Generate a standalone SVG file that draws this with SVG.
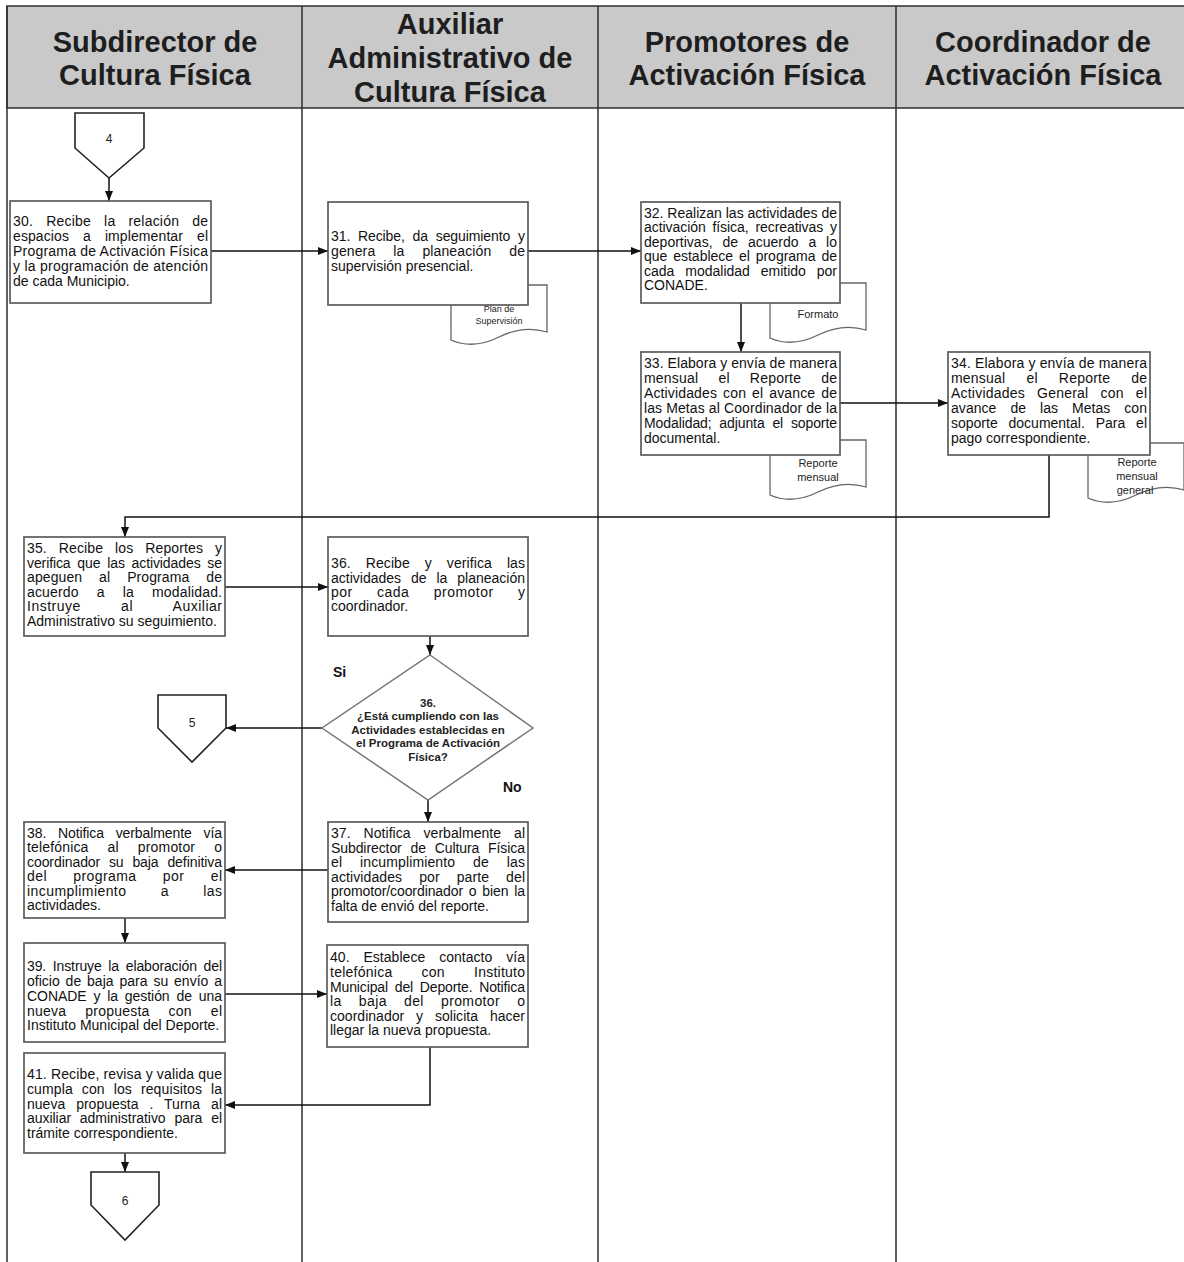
<svg xmlns="http://www.w3.org/2000/svg" width="1184" height="1262" viewBox="0 0 1184 1262">
  <style>
    .lane { stroke: #2e2e2e; stroke-width: 1.5; fill: none; }
    .hdr { fill: #c9c9c9; stroke: #2e2e2e; stroke-width: 1.5; }
    .ht { font-family: "Liberation Sans", Arial, sans-serif; font-weight: bold; font-size: 29px; fill: #1e1e1e; text-anchor: middle; }
    .box { fill: #fff; stroke: #5c5c5c; stroke-width: 1.7; }
    .t { font-family: "Liberation Sans", Arial, sans-serif; font-size: 14px; fill: #111; }
    .doc { fill: #fff; stroke: #666; stroke-width: 1.3; }
    .dt { font-family: "Liberation Sans", Arial, sans-serif; font-size: 11px; fill: #222; text-anchor: middle; }
    .dts { font-family: "Liberation Sans", Arial, sans-serif; font-size: 9px; fill: #222; text-anchor: middle; }
    .off { fill: #fff; stroke: #222; stroke-width: 1.6; }
    .num { font-family: "Liberation Sans", Arial, sans-serif; font-size: 12px; fill: #222; text-anchor: middle; }
    .dec { fill: #fff; stroke: #777; stroke-width: 1.5; }
    .qt { font-family: "Liberation Sans", Arial, sans-serif; font-weight: bold; font-size: 11.5px; fill: #222; text-anchor: middle; }
    .lbl { font-family: "Liberation Sans", Arial, sans-serif; font-weight: bold; font-size: 14px; fill: #111; }
    .conn path { stroke: #111; stroke-width: 1.5; fill: none; marker-end: url(#arrow); }
  </style>
  <defs>
    <marker id="arrow" markerUnits="userSpaceOnUse" markerWidth="10" markerHeight="10" viewBox="0 0 10 10" refX="10" refY="5" orient="auto">
      <path d="M0,1 L10,5 L0,9 Z" fill="#111"/>
    </marker>
    <!-- document symbol, 96 wide, wavy bottom -->
    <path id="docShape" d="M0,0 H96 V47 C80,42 64,44 48,52 C32,60 16,62 0,55 Z"/>
  </defs>

  <rect width="1184" height="1262" fill="#fff"/>

  <!-- swimlane frame and headers -->
  <g id="lanes">
    <rect class="hdr" x="7" y="6" width="1182" height="102"/>
    <line class="lane" x1="7" y1="6" x2="7" y2="1262"/>
    <line class="lane" x1="302" y1="6" x2="302" y2="1262"/>
    <line class="lane" x1="598" y1="6" x2="598" y2="1262"/>
    <line class="lane" x1="896" y1="6" x2="896" y2="1262"/>
    <text class="ht" x="155" y="52">Subdirector de</text>
    <text class="ht" x="155" y="85">Cultura Física</text>
    <text class="ht" x="450" y="34">Auxiliar</text>
    <text class="ht" x="450" y="68">Administrativo de</text>
    <text class="ht" x="450" y="102">Cultura Física</text>
    <text class="ht" x="747" y="52">Promotores de</text>
    <text class="ht" x="747" y="85">Activación Física</text>
    <text class="ht" x="1043" y="52">Coordinador de</text>
    <text class="ht" x="1043" y="85">Activación Física</text>
  </g>

  <!-- connectors -->
  <g id="connectors" class="conn">
    <path d="M109,178 V201"/>
    <path d="M211,251 H328"/>
    <path d="M528,251 H641"/>
    <path d="M741,303 V352"/>
    <path d="M840,403 H948"/>
    <path d="M1049,455 V517 H125 V537"/>
    <path d="M225,587 H328"/>
    <path d="M430,636 V655"/>
    <path d="M322,728 H226"/>
    <path d="M428,800 V822"/>
    <path d="M328,870 H225"/>
    <path d="M125,918 V943"/>
    <path d="M225,994 H327"/>
    <path d="M430,1047 V1105 H225"/>
    <path d="M125,1153 V1172"/>
  </g>

  <!-- documents (drawn under their boxes) -->
  <g id="doc-plan">
    <use href="#docShape" class="doc" x="451" y="285"/>
    <text class="dts" x="499" y="312">Plan de</text>
    <text class="dts" x="499" y="324">Supervisión</text>
  </g>
  <g id="doc-formato">
    <use href="#docShape" class="doc" x="770" y="283"/>
    <text class="dt" x="818" y="318">Formato</text>
  </g>
  <g id="doc-reporte">
    <use href="#docShape" class="doc" x="770" y="440"/>
    <text class="dt" x="818" y="467">Reporte</text>
    <text class="dt" x="818" y="481">mensual</text>
  </g>
  <g id="doc-reporte-general">
    <use href="#docShape" class="doc" x="1088" y="443"/>
    <text class="dt" x="1137" y="466">Reporte</text>
    <text class="dt" x="1137" y="480">mensual</text>
    <text class="dt" x="1135" y="494">general</text>
  </g>

  <!-- off-page connectors -->
  <g id="off-4">
    <polygon class="off" points="75,113 144,113 144,148 109,178 75,148"/>
    <text class="num" x="109" y="143">4</text>
  </g>
  <g id="off-5">
    <polygon class="off" points="158,695 226,695 226,728 192,762 158,728"/>
    <text class="num" x="192" y="727">5</text>
  </g>
  <g id="off-6">
    <polygon class="off" points="91,1172 159,1172 159,1205 125,1240 91,1205"/>
    <text class="num" x="125" y="1205">6</text>
  </g>

  <g id="step-30">
    <rect class="box" x="10" y="201" width="201" height="102"/>
    <text class="t" x="13" y="225.5" textLength="195" lengthAdjust="spacing" style="word-spacing:9px">30. Recibe la relación de</text>
    <text class="t" x="13" y="240.5" textLength="195" lengthAdjust="spacing" style="word-spacing:10px">espacios a implementar el</text>
    <text class="t" x="13" y="255.5" textLength="195" lengthAdjust="spacing">Programa de Activación Física</text>
    <text class="t" x="13" y="270.5" textLength="195" lengthAdjust="spacing">y la programación de atención</text>
    <text class="t" x="13" y="285.5">de cada Municipio.</text>
  </g>

  <g id="step-31">
    <rect class="box" x="328" y="202" width="200" height="103"/>
    <text class="t" x="331" y="240.5" textLength="194" lengthAdjust="spacing" style="word-spacing:4px">31. Recibe, da seguimiento y</text>
    <text class="t" x="331" y="255.5" textLength="194" lengthAdjust="spacing" style="word-spacing:14px">genera la planeación de</text>
    <text class="t" x="331" y="270.5">supervisión presencial.</text>
  </g>

  <g id="step-32">
    <rect class="box" x="641" y="202" width="199" height="101"/>
    <text class="t" x="644" y="217.5" textLength="193" lengthAdjust="spacing">32. Realizan las actividades de</text>
    <text class="t" x="644" y="232" textLength="193" lengthAdjust="spacing" style="word-spacing:3px">activación física, recreativas y</text>
    <text class="t" x="644" y="246.5" textLength="193" lengthAdjust="spacing" style="word-spacing:6px">deportivas, de acuerdo a lo</text>
    <text class="t" x="644" y="261" textLength="193" lengthAdjust="spacing" style="word-spacing:2px">que establece el programa de</text>
    <text class="t" x="644" y="275.5" textLength="193" lengthAdjust="spacing" style="word-spacing:7px">cada modalidad emitido por</text>
    <text class="t" x="644" y="290">CONADE.</text>
  </g>

  <g id="step-33">
    <rect class="box" x="641" y="352" width="199" height="103"/>
    <text class="t" x="644" y="367.5" textLength="193" lengthAdjust="spacing">33. Elabora y envía de manera</text>
    <text class="t" x="644" y="382.5" textLength="193" lengthAdjust="spacing" style="word-spacing:16px">mensual el Reporte de</text>
    <text class="t" x="644" y="397.5" textLength="193" lengthAdjust="spacing" style="word-spacing:2px">Actividades con el avance de</text>
    <text class="t" x="644" y="412.5" textLength="193" lengthAdjust="spacing">las Metas al Coordinador de la</text>
    <text class="t" x="644" y="427.5" textLength="193" lengthAdjust="spacing" style="word-spacing:4px">Modalidad; adjunta el soporte</text>
    <text class="t" x="644" y="442.5">documental.</text>
  </g>

  <g id="step-34">
    <rect class="box" x="948" y="352" width="202" height="103"/>
    <text class="t" x="951" y="367.5" textLength="196" lengthAdjust="spacing">34. Elabora y envía de manera</text>
    <text class="t" x="951" y="382.5" textLength="196" lengthAdjust="spacing" style="word-spacing:17px">mensual el Reporte de</text>
    <text class="t" x="951" y="397.5" textLength="196" lengthAdjust="spacing" style="word-spacing:8px">Actividades General con el</text>
    <text class="t" x="951" y="412.5" textLength="196" lengthAdjust="spacing" style="word-spacing:10px">avance de las Metas con</text>
    <text class="t" x="951" y="427.5" textLength="196" lengthAdjust="spacing" style="word-spacing:7px">soporte documental. Para el</text>
    <text class="t" x="951" y="442.5">pago correspondiente.</text>
  </g>

  <g id="step-35">
    <rect class="box" x="24" y="537" width="201" height="99"/>
    <text class="t" x="27" y="552.5" textLength="195" lengthAdjust="spacing" style="word-spacing:8px">35. Recibe los Reportes y</text>
    <text class="t" x="27" y="567.5" textLength="195" lengthAdjust="spacing" style="word-spacing:3px">verifica que las actividades se</text>
    <text class="t" x="27" y="581.5" textLength="195" lengthAdjust="spacing" style="word-spacing:13px">apeguen al Programa de</text>
    <text class="t" x="27" y="596.5" textLength="195" lengthAdjust="spacing" style="word-spacing:14px">acuerdo a la modalidad.</text>
    <text class="t" x="27" y="610.5" textLength="195" lengthAdjust="spacing" style="word-spacing:36px">Instruye al Auxiliar</text>
    <text class="t" x="27" y="625.5">Administrativo su seguimiento.</text>
  </g>

  <g id="step-36">
    <rect class="box" x="328" y="537" width="200" height="99"/>
    <text class="t" x="331" y="567.5" textLength="194" lengthAdjust="spacing" style="word-spacing:11px">36. Recibe y verifica las</text>
    <text class="t" x="331" y="582.5" textLength="194" lengthAdjust="spacing" style="word-spacing:6px">actividades de la planeación</text>
    <text class="t" x="331" y="596.5" textLength="194" lengthAdjust="spacing" style="word-spacing:20px">por cada promotor y</text>
    <text class="t" x="331" y="610.5">coordinador.</text>
  </g>

  <g id="decision-36">
    <polygon class="dec" points="430,655 533,728 428,800 322,728"/>
    <text class="qt" x="428" y="707">36.</text>
    <text class="qt" x="428" y="720">¿Está cumpliendo con las</text>
    <text class="qt" x="428" y="734">Actividades establecidas en</text>
    <text class="qt" x="428" y="747">el Programa de Activación</text>
    <text class="qt" x="428" y="761">Física?</text>
    <text class="lbl" x="333" y="677">Si</text>
    <text class="lbl" x="503" y="792">No</text>
  </g>

  <g id="step-37">
    <rect class="box" x="328" y="822" width="200" height="100"/>
    <text class="t" x="331" y="837.5" textLength="194" lengthAdjust="spacing" style="word-spacing:9px">37. Notifica verbalmente al</text>
    <text class="t" x="331" y="852.5" textLength="194" lengthAdjust="spacing" style="word-spacing:5px">Subdirector de Cultura Física</text>
    <text class="t" x="331" y="866.5" textLength="194" lengthAdjust="spacing" style="word-spacing:14px">el incumplimiento de las</text>
    <text class="t" x="331" y="881.5" textLength="194" lengthAdjust="spacing" style="word-spacing:13px">actividades por parte del</text>
    <text class="t" x="331" y="895.5" textLength="194" lengthAdjust="spacing" style="word-spacing:2px">promotor/coordinador o bien la</text>
    <text class="t" x="331" y="910.5">falta de envió del reporte.</text>
  </g>

  <g id="step-38">
    <rect class="box" x="24" y="822" width="201" height="96"/>
    <text class="t" x="27" y="837.5" textLength="195" lengthAdjust="spacing" style="word-spacing:8px">38. Notifica verbalmente vía</text>
    <text class="t" x="27" y="852" textLength="195" lengthAdjust="spacing" style="word-spacing:15px">telefónica al promotor o</text>
    <text class="t" x="27" y="866.5" textLength="195" lengthAdjust="spacing" style="word-spacing:5px">coordinador su baja definitiva</text>
    <text class="t" x="27" y="881" textLength="195" lengthAdjust="spacing" style="word-spacing:22px">del programa por el</text>
    <text class="t" x="27" y="895.5" textLength="195" lengthAdjust="spacing" style="word-spacing:30px">incumplimiento a las</text>
    <text class="t" x="27" y="910">actividades.</text>
  </g>

  <g id="step-39">
    <rect class="box" x="24" y="943" width="201" height="99"/>
    <text class="t" x="27" y="970.5" textLength="195" lengthAdjust="spacing" style="word-spacing:3px">39. Instruye la elaboración del</text>
    <text class="t" x="27" y="985.5" textLength="195" lengthAdjust="spacing" style="word-spacing:2px">oficio de baja para su envío a</text>
    <text class="t" x="27" y="1000.5" textLength="195" lengthAdjust="spacing" style="word-spacing:3px">CONADE y la gestión de una</text>
    <text class="t" x="27" y="1015.5" textLength="195" lengthAdjust="spacing" style="word-spacing:15px">nueva propuesta con el</text>
    <text class="t" x="27" y="1029.5">Instituto Municipal del Deporte.</text>
  </g>

  <g id="step-40">
    <rect class="box" x="327" y="945" width="201" height="102"/>
    <text class="t" x="330" y="961.5" textLength="195" lengthAdjust="spacing" style="word-spacing:10px">40. Establece contacto vía</text>
    <text class="t" x="330" y="976.5" textLength="195" lengthAdjust="spacing" style="word-spacing:25px">telefónica con Instituto</text>
    <text class="t" x="330" y="991.5" textLength="195" lengthAdjust="spacing" style="word-spacing:3px">Municipal del Deporte. Notifica</text>
    <text class="t" x="330" y="1005.5" textLength="195" lengthAdjust="spacing" style="word-spacing:13px">la baja del promotor o</text>
    <text class="t" x="330" y="1020.5" textLength="195" lengthAdjust="spacing" style="word-spacing:8px">coordinador y solicita hacer</text>
    <text class="t" x="330" y="1034.5">llegar la nueva propuesta.</text>
  </g>

  <g id="step-41">
    <rect class="box" x="24" y="1053" width="201" height="100"/>
    <text class="t" x="27" y="1078.5" textLength="195" lengthAdjust="spacing">41. Recibe, revisa y valida que</text>
    <text class="t" x="27" y="1093.5" textLength="195" lengthAdjust="spacing" style="word-spacing:5px">cumpla con los requisitos la</text>
    <text class="t" x="27" y="1108.5" textLength="195" lengthAdjust="spacing" style="word-spacing:7px">nueva propuesta . Turna al</text>
    <text class="t" x="27" y="1122.5" textLength="195" lengthAdjust="spacing" style="word-spacing:5px">auxiliar administrativo para el</text>
    <text class="t" x="27" y="1137.5">trámite correspondiente.</text>
  </g>
</svg>
